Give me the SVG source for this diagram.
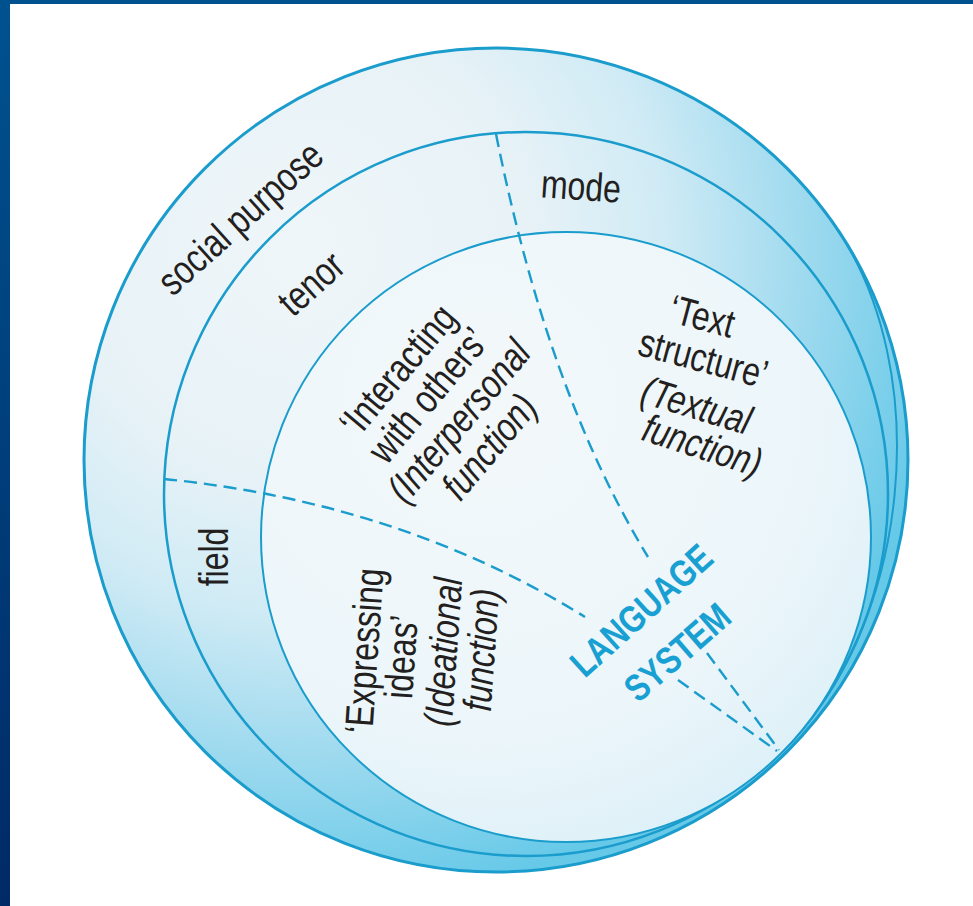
<svg xmlns="http://www.w3.org/2000/svg" width="973" height="906" viewBox="0 0 973 906">
<defs>
<linearGradient id="bar" x1="0" y1="0" x2="0" y2="1"><stop offset="0" stop-color="#00528f"/><stop offset="1" stop-color="#002a66"/></linearGradient>
<radialGradient id="band" gradientUnits="userSpaceOnUse" cx="300" cy="250" r="660"><stop offset="0" stop-color="#eff6f9"/><stop offset="0.35" stop-color="#e7f2f7"/><stop offset="0.55" stop-color="#d0ebf5"/><stop offset="0.75" stop-color="#a2dbef"/><stop offset="1" stop-color="#66c9e8"/></radialGradient>
<radialGradient id="core" gradientUnits="userSpaceOnUse" cx="480" cy="400" r="480"><stop offset="0" stop-color="#f3f8fa"/><stop offset="0.7" stop-color="#ecf6fa"/><stop offset="1" stop-color="#ddf0f8"/></radialGradient>
</defs>
<style>
.edge{fill:none;stroke:#1a9ccc}
.dash{fill:none;stroke:#1a9ccc;stroke-width:2.4;stroke-dasharray:13 7}
.lbl{font-family:"Liberation Sans",Arial,sans-serif;font-size:40px;fill:#231f20;text-anchor:middle}
.it{font-style:italic}
.ls{font-family:"Liberation Sans",Arial,sans-serif;font-size:38px;font-weight:bold;fill:#19a0d3;text-anchor:middle}
</style>
<rect width="973" height="906" fill="#ffffff"/>
<rect x="0" y="0" width="973" height="4" fill="#00528f"/>
<rect x="0" y="0" width="10" height="906" fill="url(#bar)"/>

<g id="social-purpose">
<circle cx="496" cy="460" r="412" fill="url(#band)" stroke="#1a9ccc" stroke-width="3"/>
</g>
<g id="context">
<circle cx="526" cy="494" r="362" fill="url(#band)" stroke="#1a9ccc" stroke-width="2.5"/>
<path class="edge" stroke-width="2" d="M833.5,223.6 C936.8,371 910,626 782,752"/>
</g>
<g id="language-system">
<circle cx="566" cy="537" r="305" fill="url(#core)" stroke="#1a9ccc" stroke-width="2"/>
</g>

<g id="connectors">
<path class="dash" d="M496,134 Q547.8,393 648,557"/>
<path class="dash" d="M164,479 Q401,502.7 585,617"/>
<path class="dash" d="M707,653 L779,750"/>
<path class="dash" d="M678,680 L777,751"/>
</g>

<g id="label-social-purpose"><text class="lbl" transform="translate(242,220) rotate(-42) scale(0.8,1)" y="11">social purpose</text></g>
<g id="label-tenor"><text class="lbl" transform="translate(311.5,284) rotate(-42) scale(0.8,1)" y="13">tenor</text></g>
<g id="label-mode"><text class="lbl" transform="translate(581,187) rotate(4) scale(0.8,1)" y="13">mode</text></g>
<g id="label-field"><text class="lbl" transform="translate(214,557) rotate(-90) scale(0.8,1)" y="14">field</text></g>

<g id="interpersonal">
<text class="lbl" transform="translate(399,371) rotate(-50) scale(0.8,1)" y="12">‘Interacting</text>
<text class="lbl" transform="translate(429.4,396.3) rotate(-50) scale(0.8,1)" y="12">with others’</text>
<text class="lbl it" transform="translate(460,422) rotate(-50) scale(0.8,1)" y="12">(Interpersonal</text>
<text class="lbl it" transform="translate(490.6,447.7) rotate(-50) scale(0.8,1)" y="12">function)</text>
</g>

<g id="textual">
<text class="lbl" transform="translate(702,317) rotate(15) scale(0.8,1)" y="13">‘Text</text>
<text class="lbl" transform="translate(703,360) rotate(15) scale(0.8,1)" y="12">structure’</text>
<text class="lbl it" transform="translate(696,407) rotate(17) scale(0.8,1)" y="12">(Textual</text>
<text class="lbl it" transform="translate(702,447) rotate(18) scale(0.8,1)" y="12">function)</text>
</g>

<g id="ideational">
<text class="lbl" transform="translate(366,651) rotate(-86) scale(0.8,1)" y="12">‘Expressing</text>
<text class="lbl" transform="translate(402,657) rotate(-86) scale(0.8,1)" y="13">ideas’</text>
<text class="lbl it" transform="translate(445,652) rotate(-86) scale(0.8,1)" y="12">(Ideational</text>
<text class="lbl it" transform="translate(483,650) rotate(-86) scale(0.8,1)" y="12">function)</text>
</g>

<g id="label-language-system">
<text class="ls" transform="translate(641,610) rotate(-42) scale(0.81,1)" y="13.6">LANGUAGE</text>
<text class="ls" transform="translate(677,652) rotate(-41) scale(0.81,1)" y="13.6">SYSTEM</text>
</g>
</svg>
